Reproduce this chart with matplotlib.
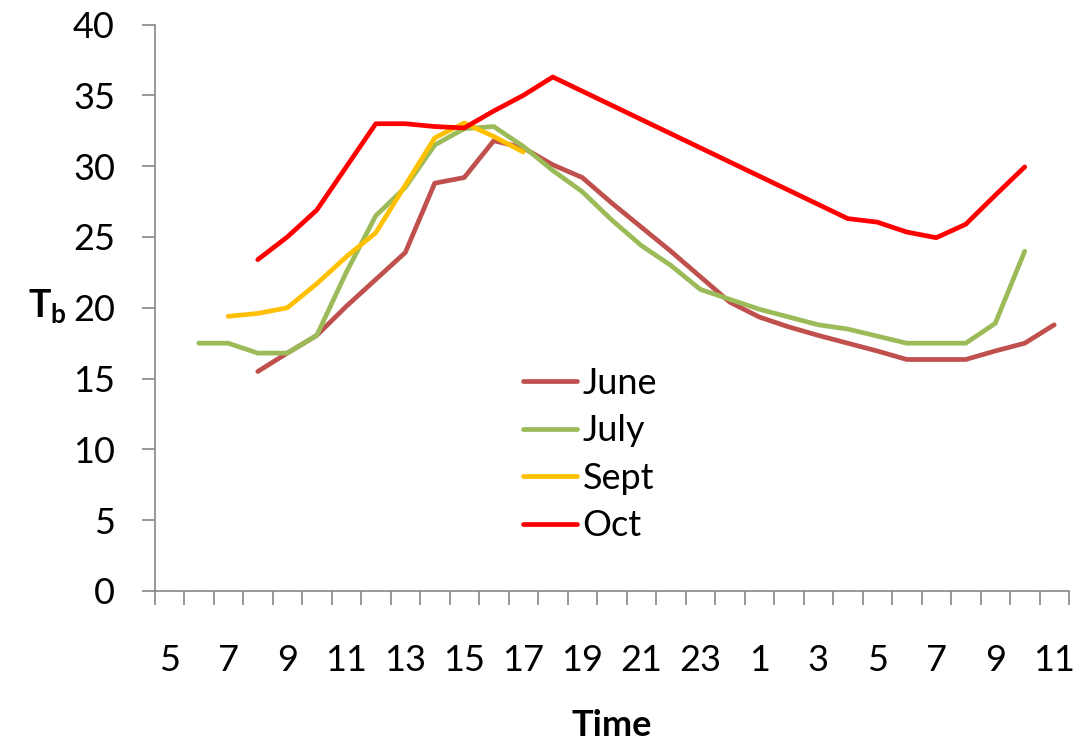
import numpy as np
import matplotlib
matplotlib.use("Agg")
import matplotlib.pyplot as plt
from matplotlib.ticker import FixedLocator

plt.rcParams['font.family'] = ['Lato', 'DejaVu Sans']
plt.rcParams['mathtext.fontset'] = 'custom'
plt.rcParams['mathtext.bf'] = 'Lato:bold'
plt.rcParams['mathtext.rm'] = 'Lato'

nan = np.nan
hours = [5, 6, 7, 8, 9, 10, 11, 12, 13, 14, 15, 16, 17, 18, 19, 20, 21, 22, 23,
         0, 1, 2, 3, 4, 5, 6, 7, 8, 9, 10, 11]

june = [nan, nan, nan, 15.5, 16.8, 18.05, 20.1, 22.0, 23.9, 28.8, 29.2, 31.8, 31.3, 30.1, 29.2,
        27.4, 25.7, 24.0, 22.2, 20.4, 19.35, 18.65, 18.05, 17.5, 16.95, 16.35, 16.35, 16.35,
        16.95, 17.5, 18.8]
july = [nan, 17.5, 17.5, 16.8, 16.8, 18.05, 22.5, 26.5, 28.5, 31.5, 32.65, 32.8, 31.4, 29.7, 28.2,
        26.2, 24.4, 23.0, 21.3, 20.6, 19.9, 19.35, 18.8, 18.5, 18.0, 17.5, 17.5, 17.5,
        18.9, 24.0, nan]
sept = [nan, nan, 19.4, 19.6, 20.0, 21.7, 23.6, 25.3, 28.65, 32.0, 33.05, 32.1, 31.0, nan, nan,
        nan, nan, nan, nan, nan, nan, nan, nan, nan, nan, nan, nan, nan, nan, nan, nan]
octo = [nan, nan, nan, 23.4, 25.0, 26.9, 29.95, 33.0, 33.0, 32.8, 32.7, 33.9, 35.0, 36.3, 35.3,
        34.3, 33.3, 32.3, 31.3, 30.3, 29.3, 28.3, 27.3, 26.3, 26.05, 25.35, 24.95, 25.9,
        27.95, 29.95, nan]

series = [("June", june, "#C0504D"), ("July", july, "#9BBB59"),
          ("Sept", sept, "#FFC000"), ("Oct", octo, "#FF0000")]

W, H = 1081, 742
fig = plt.figure(figsize=(W / 100, H / 100), dpi=100)
ax = fig.add_axes([154.5 / W, 1 - 591 / H, (1069 - 154.5) / W, (591 - 24.6) / H])

x = np.arange(len(hours))
for name, vals, col in series:
    ax.plot(x, vals, color=col, lw=3.4, label=name, solid_capstyle='round',
            solid_joinstyle='round')

ax.set_xlim(-0.5, len(hours) - 0.5)
ax.set_ylim(0, 40)
ax.set_yticks(np.arange(0, 41, 5))

ax.xaxis.set_major_locator(FixedLocator(x[::2]))
ax.set_xticklabels([str(h) for h in hours[::2]])
ax.xaxis.set_minor_locator(FixedLocator(np.arange(-0.5, len(hours), 1.0)))

grey = "#868686"
for s in ['top', 'right']:
    ax.spines[s].set_visible(False)
for s in ['left', 'bottom']:
    ax.spines[s].set_color(grey)
    ax.spines[s].set_linewidth(1.2)

ax.tick_params(axis='y', which='major', direction='out', length=9.5, width=1.2, color=grey,
               labelsize=26, pad=19, labelcolor='black')
ax.tick_params(axis='x', which='major', length=0, labelsize=26, pad=38, labelcolor='black')
ax.tick_params(axis='x', which='minor', direction='out', length=10, width=1.2, color=grey)

leg = ax.legend(loc='upper left', bbox_to_anchor=((523 - 154.5) / (1069 - 154.5), (591 - 367) / (591 - 24.6)),
                frameon=False, fontsize=26, handlelength=1.5, handletextpad=0.15,
                labelspacing=0.40, borderpad=0, borderaxespad=0)

fig.text(28 / W, 1 - 306 / H, r'$\mathbf{T_b}$', fontsize=27, ha='left', va='center')
fig.text(612 / W, 1 - 725 / H, 'Time', fontsize=26, fontweight='bold', ha='center', va='center')

fig.savefig("out.png", dpi=100)
